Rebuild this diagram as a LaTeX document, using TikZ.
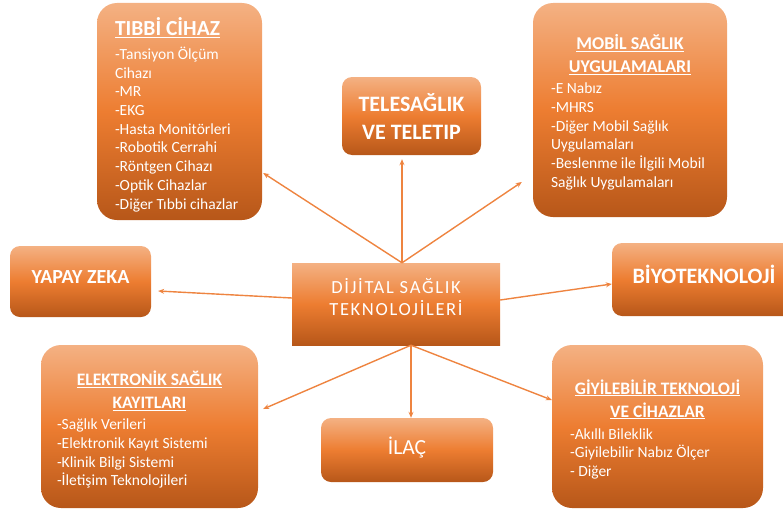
\documentclass[tikz,border=0pt]{standalone}
\usepackage{fontspec}
\setmainfont{Carlito}
\usetikzlibrary{positioning, arrows.meta}
\definecolor{boxtop}{RGB}{244,177,131}
\definecolor{boxmid}{RGB}{237,125,49}
\definecolor{boxbot}{RGB}{183,87,25}
\definecolor{okrenk}{RGB}{238,132,64}
\tikzset{
  blok/.style={rounded corners=20pt, top color=boxtop, bottom color=boxbot, middle color=boxmid, inner sep=0pt},
  kucukblok/.style={blok, rounded corners=10pt},
  baslik/.style={text=white, font=\bfseries\fontsize{17.5}{23}\selectfont, align=center, inner sep=0pt},
  madde/.style={text=white, font=\fontsize{15.5}{18.7}\selectfont, align=left, inner sep=0pt, anchor=north west},
  ok/.style={-{Stealth[length=6pt,width=5pt]}, line width=1.4pt, draw=okrenk},
}
\begin{document}
\begin{tikzpicture}[x=1pt, y=-1pt]
  \useasboundingbox (0,0) rectangle (783,511);
  \clip (0,0) rectangle (783,511);

  % center
  \node[blok, rounded corners=0pt, minimum width=208pt, minimum height=82pt] (dst) at (396,304) {};
  \node[text=white, align=center, inner sep=0pt, font=\fontsize{18.5}{22}\selectfont\addfontfeature{LetterSpace=9}]
    at ([yshift=7pt]dst.center) {DİJİTAL SAĞLIK\\TEKNOLOJİLERİ};

  % boxes around
  \node[blok, minimum width=165pt, minimum height=217pt] (tibbi) at (179.5,111.5) {};
  \node[baslik, anchor=west, font=\bfseries\fontsize{21.5}{24}\selectfont] at ([xshift=18pt,yshift=-25pt]tibbi.north west) {\underline{TIBBİ CİHAZ}};
  \node[madde] at ([xshift=18pt,yshift=-44pt]tibbi.north west)
    {-Tansiyon Ölçüm\\Cihazı\\-MR\\-EKG\\-Hasta Monitörleri\\-Robotik Cerrahi\\-Röntgen Cihazı\\-Optik Cihazlar\\-Diğer Tıbbi cihazlar};

  \node[kucukblok, minimum width=139pt, minimum height=78pt] (tele) at (411.5,116) {};
  \node[baslik, font=\bfseries\fontsize{22}{28}\selectfont] at (tele.center) {TELESAĞLIK\\VE TELETIP};

  \node[blok, minimum width=194pt, minimum height=214pt] (mobil) at (630,110) {};
  \node[baslik, font=\bfseries\fontsize{18}{23}\selectfont] at ([yshift=-52pt]mobil.north) {\underline{MOBİL SAĞLIK}\\\underline{UYGULAMALARI}};
  \node[madde] at ([xshift=18pt,yshift=-80pt]mobil.north west)
    {-E Nabız\\-MHRS\\-Diğer Mobil Sağlık\\Uygulamaları\\-Beslenme ile İlgili Mobil\\Sağlık Uygulamaları};

  \node[kucukblok, minimum width=141pt, minimum height=71pt] (yapay) at (80.5,281.5) {};
  \node[baslik, font=\bfseries\fontsize{20}{22}\selectfont] at ([yshift=4pt]yapay.center) {YAPAY ZEKA};

  \node[kucukblok, minimum width=184pt, minimum height=73pt] (biyo) at (704,279.5) {};
  \node[baslik, font=\bfseries\fontsize{22}{24}\selectfont] at ([yshift=5pt]biyo.center) {BİYOTEKNOLOJİ};

  \node[blok, minimum width=217pt, minimum height=163pt] (elek) at (149.5,426.5) {};
  \node[baslik] at ([yshift=-46pt]elek.north) {\underline{ELEKTRONİK SAĞLIK}\\\underline{KAYITLARI}};
  \node[madde] at ([xshift=16pt,yshift=-74pt]elek.north west)
    {-Sağlık Verileri\\-Elektronik Kayıt Sistemi\\-Klinik Bilgi Sistemi\\-İletişim Teknolojileri};

  \node[kucukblok, minimum width=172pt, minimum height=64pt] (ilac) at (407,450) {};
  \node[text=white, inner sep=0pt, font=\fontsize{21.5}{24}\selectfont] at ([yshift=2pt]ilac.center) {İLAÇ};

  \node[blok, minimum width=211pt, minimum height=163pt] (giy) at (657.5,426.5) {};
  \node[baslik] at ([yshift=-54.5pt]giy.north) {\underline{GİYİLEBİLİR TEKNOLOJİ}\\\underline{VE CİHAZLAR}};
  \node[madde] at ([xshift=18pt,yshift=-83.5pt]giy.north west)
    {-Akıllı Bileklik\\-Giyilebilir Nabız Ölçer\\- Diğer};

  % arrows
  \coordinate (ust) at ([xshift=6pt]dst.north);
  \coordinate (alt) at ([xshift=15pt]dst.south);
  \draw[ok] (ust) -- ([xshift=-9.5pt,yshift=-4pt]tele.south);
  \draw[ok] (ust) -- ([xshift=1pt,yshift=-61.5pt]tibbi.east);
  \draw[ok] (ust) -- ([xshift=-11pt,yshift=-72pt]mobil.west);
  \draw[ok] ([yshift=6pt]dst.west) -- ([xshift=7pt,yshift=-9.5pt]yapay.east);
  \draw[ok] ([yshift=4pt]dst.east) -- ([yshift=-4.5pt]biyo.west);
  \draw[ok] (alt) -- ([xshift=4pt]ilac.north);
  \draw[ok] (alt) -- ([xshift=5pt,yshift=17.5pt]elek.east);
  \draw[ok] (alt) -- ([yshift=26.5pt]giy.west);
\end{tikzpicture}
\end{document}
